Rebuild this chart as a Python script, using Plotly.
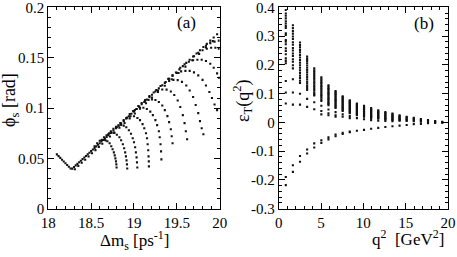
import plotly.graph_objects as go

# ---------------- panel (a) data ----------------
v_dm = [18.10, 18.12, 18.14, 18.16, 18.18, 18.20, 18.22, 18.24, 18.26]
v_phi = [0.0540, 0.0522, 0.0505, 0.0487, 0.0469, 0.0452, 0.0434, 0.0416, 0.0399]

line_dm = [18.28, 18.30, 18.32, 18.34, 18.36, 18.38, 18.40, 18.42, 18.44, 18.46, 18.48, 18.50,
           18.52, 18.54, 18.56, 18.58, 18.60, 18.62, 18.64, 18.66, 18.68, 18.70, 18.73, 18.76,
           18.79, 18.82, 18.85, 18.88, 18.91, 18.94, 18.97, 19.00, 19.03, 19.06, 19.09, 19.12,
           19.15, 19.18, 19.21, 19.25, 19.29, 19.33, 19.37, 19.41, 19.45, 19.49, 19.53, 19.57,
           19.61, 19.65, 19.69, 19.73, 19.77, 19.81, 19.85, 19.89, 19.93, 19.97]
line_phi = [0.0398, 0.0414, 0.0430, 0.0445, 0.0461, 0.0477, 0.0493, 0.0509, 0.0524, 0.0540,
            0.0556, 0.0572, 0.0588, 0.0603, 0.0619, 0.0635, 0.0651, 0.0667, 0.0682, 0.0698,
            0.0714, 0.0730, 0.0753, 0.0777, 0.0801, 0.0825, 0.0848, 0.0872, 0.0896, 0.0919,
            0.0943, 0.0967, 0.0990, 0.1014, 0.1038, 0.1062, 0.1085, 0.1109, 0.1133, 0.1164,
            0.1196, 0.1227, 0.1259, 0.1291, 0.1322, 0.1354, 0.1385, 0.1417, 0.1449, 0.1480,
            0.1512, 0.1543, 0.1575, 0.1607, 0.1638, 0.1670, 0.1701, 0.1733]

line2_dm = [18.31, 18.35, 18.39, 18.43, 18.47, 18.51, 18.55, 18.59, 18.63, 18.67, 18.72, 18.77,
            18.83, 18.89, 18.95, 19.01, 19.07, 19.14, 19.21, 19.28, 19.36, 19.44, 19.52, 19.60,
            19.68, 19.76, 19.84, 19.92]
line2_phi = [0.0392, 0.0424, 0.0456, 0.0487, 0.0519, 0.0551, 0.0582, 0.0614, 0.0645, 0.0677,
             0.0717, 0.0756, 0.0804, 0.0851, 0.0898, 0.0946, 0.0993, 0.1048, 0.1104, 0.1159,
             0.1222, 0.1286, 0.1349, 0.1412, 0.1475, 0.1538, 0.1602, 0.1665]

arcs_dm = [
    [18.54, 18.57, 18.60, 18.63, 18.66, 18.69, 18.715, 18.735, 18.75, 18.765, 18.775, 18.783, 18.79, 18.794, 18.797],
    [18.62, 18.65, 18.68, 18.71, 18.74, 18.77, 18.80, 18.83, 18.85, 18.87, 18.885, 18.897, 18.906, 18.913, 18.918, 18.921],
    [18.70, 18.73, 18.76, 18.79, 18.82, 18.85, 18.88, 18.91, 18.94, 18.965, 18.985, 19.00, 19.013, 19.022, 19.03, 19.035, 19.039],
    [18.80, 18.84, 18.88, 18.92, 18.96, 19.00, 19.04, 19.07, 19.10, 19.12, 19.14, 19.152, 19.16, 19.166, 19.17, 19.173, 19.174],
    [18.91, 18.95, 18.99, 19.03, 19.07, 19.11, 19.15, 19.19, 19.22, 19.25, 19.27, 19.29, 19.30, 19.31, 19.316, 19.32],
    [19.01, 19.05, 19.09, 19.13, 19.17, 19.21, 19.25, 19.29, 19.33, 19.36, 19.39, 19.41, 19.43, 19.44, 19.45],
    [19.13, 19.18, 19.23, 19.28, 19.33, 19.38, 19.43, 19.47, 19.51, 19.54, 19.57, 19.59, 19.605, 19.62],
    [19.26, 19.31, 19.36, 19.41, 19.46, 19.51, 19.56, 19.61, 19.65, 19.69, 19.72, 19.75, 19.77, 19.79, 19.81],
    [19.40, 19.45, 19.50, 19.55, 19.60, 19.65, 19.70, 19.75, 19.80, 19.84, 19.88, 19.91, 19.94, 19.97],
    [19.54, 19.59, 19.64, 19.69, 19.74, 19.79, 19.84, 19.89, 19.93, 19.97, 19.995],
    [19.70, 19.75, 19.80, 19.85, 19.90, 19.95, 19.99],
    [19.84, 19.89, 19.94, 19.99],
]
arcs_phi = [
    [0.062, 0.065, 0.0675, 0.0685, 0.0685, 0.067, 0.065, 0.062, 0.059, 0.056, 0.053, 0.050, 0.047, 0.044, 0.041],
    [0.068, 0.071, 0.073, 0.0748, 0.0755, 0.0752, 0.0735, 0.071, 0.068, 0.064, 0.060, 0.056, 0.052, 0.048, 0.044, 0.040],
    [0.074, 0.077, 0.0795, 0.0815, 0.0828, 0.0832, 0.0825, 0.081, 0.078, 0.0745, 0.070, 0.066, 0.061, 0.056, 0.051, 0.046, 0.041],
    [0.081, 0.085, 0.088, 0.0905, 0.0918, 0.0918, 0.0902, 0.088, 0.084, 0.080, 0.075, 0.070, 0.064, 0.058, 0.052, 0.047, 0.042],
    [0.090, 0.094, 0.097, 0.099, 0.1003, 0.1003, 0.099, 0.0965, 0.093, 0.088, 0.083, 0.077, 0.071, 0.064, 0.057, 0.049],
    [0.098, 0.102, 0.105, 0.107, 0.108, 0.1085, 0.108, 0.106, 0.1025, 0.098, 0.092, 0.086, 0.079, 0.072, 0.065],
    [0.108, 0.112, 0.1155, 0.1175, 0.1185, 0.1183, 0.1165, 0.113, 0.1075, 0.101, 0.093, 0.085, 0.077, 0.069],
    [0.118, 0.122, 0.125, 0.127, 0.128, 0.1278, 0.126, 0.1225, 0.1175, 0.111, 0.103, 0.095, 0.087, 0.080, 0.074],
    [0.129, 0.1325, 0.135, 0.1365, 0.137, 0.137, 0.1355, 0.1325, 0.128, 0.1225, 0.116, 0.110, 0.1035, 0.098],
    [0.140, 0.1435, 0.146, 0.1475, 0.148, 0.148, 0.1468, 0.144, 0.140, 0.1345, 0.130],
    [0.1515, 0.155, 0.1575, 0.159, 0.160, 0.160, 0.159],
    [0.162, 0.1645, 0.166, 0.167],
]

# ---------------- panel (b) data ----------------
q2_cols = [0.84, 1.68, 2.52, 3.36, 4.20, 5.04, 5.88, 6.72, 7.56, 8.40, 9.24, 10.08,
           10.92, 11.76, 12.60, 13.44, 14.28, 15.12, 15.96, 16.80, 17.64, 18.48, 19.32]
eps_upper = [
    [0.391, 0.379, 0.371, 0.362, 0.352, 0.344, 0.336, 0.329, 0.310, 0.304, 0.287, 0.281, 0.272,
     0.258, 0.249, 0.237, 0.223, 0.214, 0.206, 0.144, 0.104, 0.066],
    [0.338, 0.328, 0.318, 0.309, 0.299, 0.290, 0.279, 0.270, 0.259, 0.250, 0.240, 0.231, 0.220,
     0.211, 0.199, 0.188, 0.150, 0.104, 0.062],
    [0.278, 0.269, 0.261, 0.252, 0.244, 0.235, 0.226, 0.217, 0.208, 0.199, 0.190, 0.181, 0.172,
     0.163, 0.154, 0.145, 0.137, 0.100, 0.062],
    [0.229, 0.221, 0.214, 0.206, 0.198, 0.190, 0.182, 0.174, 0.166, 0.158, 0.150, 0.142, 0.135,
     0.127, 0.120, 0.113, 0.082, 0.054],
    [0.188, 0.181, 0.175, 0.168, 0.162, 0.155, 0.149, 0.142, 0.136, 0.129, 0.123, 0.116, 0.110,
     0.103, 0.097, 0.094, 0.070, 0.046],
    [0.157, 0.152, 0.147, 0.142, 0.137, 0.132, 0.127, 0.122, 0.117, 0.112, 0.107, 0.101, 0.096, 0.091,
     0.086, 0.080, 0.075, 0.058, 0.040, 0.028],
    [0.129, 0.125, 0.120, 0.116, 0.112, 0.107, 0.103, 0.099, 0.094, 0.090, 0.085, 0.081, 0.077, 0.072,
     0.068, 0.064, 0.060, 0.045, 0.032, 0.025],
    [0.109, 0.105, 0.101, 0.098, 0.094, 0.090, 0.086, 0.082, 0.078, 0.074, 0.070, 0.066, 0.062, 0.058,
     0.054, 0.050, 0.036, 0.025, 0.020],
    [0.091, 0.088, 0.084, 0.081, 0.077, 0.074, 0.070, 0.067, 0.063, 0.060, 0.056, 0.053, 0.050, 0.047,
     0.043, 0.040, 0.028, 0.020],
    [0.077, 0.074, 0.071, 0.068, 0.065, 0.062, 0.059, 0.056, 0.053, 0.050, 0.047, 0.044, 0.041, 0.038,
     0.035, 0.032, 0.022, 0.015],
    [0.066, 0.063, 0.060, 0.057, 0.054, 0.051, 0.048, 0.045, 0.042, 0.039, 0.036, 0.033, 0.030, 0.027,
     0.025, 0.015],
    [0.058, 0.055, 0.052, 0.049, 0.046, 0.043, 0.040, 0.037, 0.034, 0.031, 0.028, 0.025, 0.022, 0.020, 0.011],
    [0.050, 0.047, 0.044, 0.041, 0.038, 0.035, 0.032, 0.029, 0.026, 0.023, 0.020, 0.018, 0.016, 0.008],
    [0.042, 0.039, 0.036, 0.033, 0.030, 0.027, 0.024, 0.021, 0.018, 0.016, 0.013, 0.006],
    [0.036, 0.033, 0.030, 0.027, 0.024, 0.021, 0.018, 0.015, 0.012, 0.010, 0.005],
    [0.031, 0.028, 0.025, 0.022, 0.019, 0.016, 0.013, 0.010, 0.008, 0.004],
    [0.025, 0.022, 0.019, 0.016, 0.013, 0.010, 0.008, 0.006],
    [0.020, 0.017, 0.014, 0.011, 0.008, 0.005],
    [0.016, 0.013, 0.010, 0.007, 0.004],
    [0.012, 0.009, 0.006, 0.003],
    [0.008, 0.005, 0.002],
    [0.005, 0.003, 0.001],
    [0.002, 0.000],
]
eps_lower = [
    [-0.190, -0.218], [-0.149, -0.172], [-0.117, -0.137], [-0.094, -0.108], [-0.073, -0.087],
    [-0.062, -0.071], [-0.052, -0.059], [-0.042, -0.048], [-0.036, -0.040], [-0.032, -0.034],
    [-0.029], [-0.026], [-0.022], [-0.019], [-0.016], [-0.013], [-0.011], [-0.009], [-0.006],
    [-0.005], [-0.003], [-0.002], [-0.0005],
]

FONT = "Liberation Serif"
mk = dict(symbol="square", size=2.1, color="#111111", line=dict(width=0))

fig = go.Figure()

# panel (a)
xa, ya = [], []
for xs, ys in [(v_dm, v_phi), (line_dm, line_phi), (line2_dm, line2_phi)] + list(zip(arcs_dm, arcs_phi)):
    xa += list(xs)
    ya += list(ys)
fig.add_trace(go.Scatter(x=xa, y=ya, mode="markers", marker=mk, xaxis="x", yaxis="y",
                         showlegend=False, hoverinfo="skip"))

# panel (b)
xb, yb = [], []
for q, up, lo in zip(q2_cols, eps_upper, eps_lower):
    for v in up + lo:
        xb.append(q)
        yb.append(v)
fig.add_trace(go.Scatter(x=xb, y=yb, mode="markers", marker=mk, xaxis="x2", yaxis="y2",
                         showlegend=False, hoverinfo="skip"))

ax_common = dict(showline=True, linecolor="black", linewidth=1, mirror="ticks",
                 ticks="inside", ticklen=6, tickwidth=1, tickcolor="black",
                 showgrid=False, zeroline=False, automargin=False,
                 ticklabeloverflow="allow",
                 tickfont=dict(family=FONT, size=15, color="black"))

ydom = [0.188, 0.971]
fig.update_layout(
    width=457, height=257, margin=dict(l=0, r=0, t=0, b=0, pad=0),
    paper_bgcolor="white", plot_bgcolor="white",
    xaxis=dict(domain=[0.1057, 0.4807], range=[18, 20], tickvals=[18, 18.5, 19, 19.5, 20],
               ticktext=["18", "18.5", "19", "19.5", "20"],
               minor=dict(ticks="inside", ticklen=3, dtick=0.1, tickcolor="black", showgrid=False),
               anchor="y", **ax_common),
    yaxis=dict(domain=ydom, range=[0, 0.2], tickvals=[0, 0.05, 0.1, 0.15, 0.2],
               ticktext=["0", "0.05", "0.1", "0.15", "0.2"],
               minor=dict(ticks="inside", ticklen=3, dtick=0.01, tickcolor="black", showgrid=False),
               anchor="x", **ax_common),
    xaxis2=dict(domain=[0.6098, 0.9803], range=[0, 20], tickvals=[0, 5, 10, 15, 20],
                minor=dict(ticks="inside", ticklen=3, dtick=1, tickcolor="black", showgrid=False),
                anchor="y2", **ax_common),
    yaxis2=dict(domain=ydom, range=[-0.3, 0.4], tickvals=[-0.3, -0.2, -0.1, 0, 0.1, 0.2, 0.3, 0.4],
                ticktext=["-0.3", "-0.2", "-0.1", "0", "0.1", "0.2", "0.3", "0.4"],
                minor=dict(ticks="inside", ticklen=3, dtick=0.02, tickcolor="black", showgrid=False),
                anchor="x2", **ax_common),
)

tf = dict(family=FONT, size=17, color="black")
ann = dict(showarrow=False, xanchor="center", yanchor="middle")
fig.add_annotation(text="(a)", x=19.61, y=0.185, xref="x", yref="y", font=tf, **ann)
fig.add_annotation(text="(b)", x=17.2, y=0.344, xref="x2", yref="y2", font=tf, **ann)
fig.add_annotation(text="Δm<sub>s</sub> [ps<sup>-1</sup>]", x=134 / 457, y=1 - 240 / 257,
                   xref="paper", yref="paper", font=tf, **ann)
fig.add_annotation(text="q<sup>2</sup>  [GeV<sup>2</sup>]", x=408 / 457, y=1 - 238 / 257,
                   xref="paper", yref="paper", font=tf, **ann)
fig.add_annotation(text="ϕ<sub>s</sub> [rad]", x=11 / 457, y=1 - 100 / 257, textangle=-90,
                   xref="paper", yref="paper", font=dict(family=FONT, size=18, color="black"), **ann)
fig.add_annotation(text="ε<sub>T</sub>(q<sup>2</sup>)", x=243 / 457, y=1 - 100 / 257, textangle=-90,
                   xref="paper", yref="paper", font=dict(family=FONT, size=18, color="black"), **ann)

fig.write_html("out.html", config={"displayModeBar": False, "staticPlot": True},
               post_script="document.body.style.margin='0px';document.body.style.padding='0px';")
